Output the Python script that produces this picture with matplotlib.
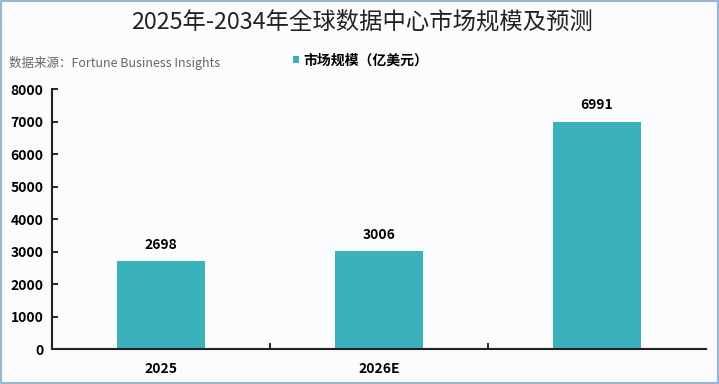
import matplotlib.pyplot as plt
from matplotlib.patches import Rectangle

plt.rcParams['font.family'] = ['Noto Sans CJK SC', 'DejaVu Sans']

# 数据
categories = ['2025', '2026E', '2034E']
tick_labels = ['2025', '2026E', '']  # 第三个标签在原图中被遮挡
market_size = [2698, 3006, 6991]

bar_color = '#3BB1BB'

fig = plt.figure(figsize=(7.19, 3.84), dpi=100)
fig.patch.set_facecolor('#FBFCFD')
ax = fig.add_axes([0.0723, 0.0911, 0.9096, 0.677])
ax.set_facecolor('#FBFCFD')

x = range(len(categories))
bars = ax.bar(x, market_size, width=0.4, color=bar_color, label='市场规模（亿美元）')

# 数值标签
for xi, v in zip(x, market_size):
    ax.text(xi, v + 300, str(v), ha='center', va='bottom', fontsize=10, fontweight='bold')

ax.set_xlim(-0.5, 2.5)
ax.set_ylim(0, 8000)
ax.set_yticks(range(0, 8001, 1000))
ax.set_xticks(list(x))
ax.set_xticklabels(tick_labels)
ax.set_xticks([0.5, 1.5], minor=True)
ax.tick_params(axis='x', which='major', length=0, pad=9, labelsize=10)
ax.tick_params(axis='x', which='minor', length=4, direction='in', width=1.2)
ax.tick_params(axis='y', length=4, direction='in', width=1.2, labelsize=10, pad=6)
for lab in ax.get_xticklabels() + ax.get_yticklabels():
    lab.set_fontweight('bold')

for s in ['top', 'right']:
    ax.spines[s].set_visible(False)
for s in ['left', 'bottom']:
    ax.spines[s].set_linewidth(1.5)
    ax.spines[s].set_color('#222222')

# 标题和来源
fig.text(0.504, 0.943, '2025年-2034年全球数据中心市场规模及预测', ha='center', va='center',
         fontsize=16.8, color='#222222')
fig.text(0.012, 0.836, '数据来源：Fortune Business Insights', ha='left', va='center',
         fontsize=9, color='#666666')

# 图例
fig.legend(handles=[bars], loc='center left', bbox_to_anchor=(0.39, 0.842), frameon=False,
           handlelength=0.45, handleheight=0.45, handletextpad=0.3,
           prop={'size': 10, 'weight': 'bold'})

# 边框
fig.patches.append(Rectangle((0.001, 0.002), 0.998, 0.996, transform=fig.transFigure,
                             fill=False, edgecolor='#9DB4D6', linewidth=1.5))

plt.savefig('out.png', dpi=100, facecolor=fig.get_facecolor())
